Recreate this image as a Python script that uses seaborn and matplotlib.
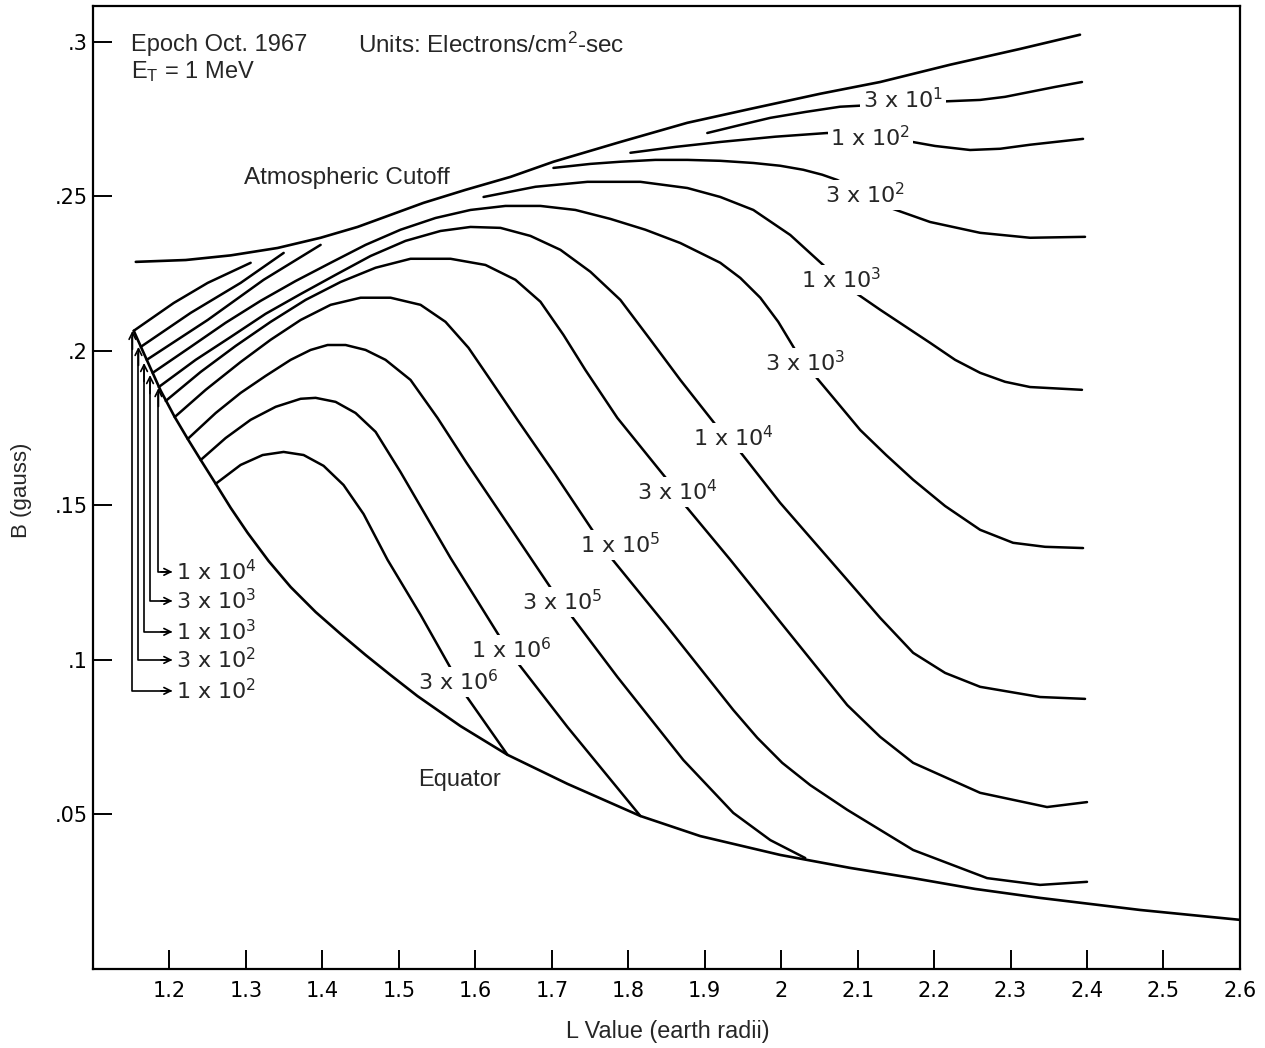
import matplotlib
matplotlib.use("Agg")
import matplotlib.pyplot as plt
import pandas as pd
import seaborn as sns

sns.set_theme(style="ticks")
plt.rcParams["font.family"] = ["DejaVu Sans"]
plt.rcParams["mathtext.fontset"] = "custom"
plt.rcParams["mathtext.rm"] = "DejaVu Sans"
plt.rcParams["mathtext.it"] = "DejaVu Sans"
plt.rcParams["mathtext.default"] = "regular"

# ---------------- data (L in earth radii, B in gauss) ----------------
L_cutoff = [1.1560, 1.2213, 1.2801, 1.3415, 1.3977, 1.4460, 1.4892, 1.5323, 1.5872, 1.6460,
            1.7022, 1.7897, 1.8773, 1.9597, 2.0511, 2.1295, 2.2211, 2.3124, 2.3908]
B_cutoff = [0.2288, 0.2294, 0.2309, 0.2333, 0.2366, 0.2401, 0.2440, 0.2479, 0.2521, 0.2563,
            0.2612, 0.2676, 0.2738, 0.2783, 0.2832, 0.2870, 0.2926, 0.2977, 0.3023]

L_equator = [1.1533, 1.1716, 1.1886, 1.2069, 1.2239, 1.2409, 1.2605, 1.2801, 1.3023, 1.3297,
             1.3585, 1.3912, 1.4239, 1.4565, 1.4892, 1.5244, 1.5806, 1.6421, 1.7205, 1.8159,
             1.8942, 1.9988, 2.0903, 2.1726, 2.2537, 2.3386, 2.4693, 2.6000]
B_equator = [0.2065, 0.1964, 0.1871, 0.1786, 0.1715, 0.1647, 0.1570, 0.1492, 0.1411, 0.1320,
             0.1236, 0.1155, 0.1084, 0.1016, 0.0951, 0.0883, 0.0786, 0.0693, 0.0599, 0.0495,
             0.0430, 0.0369, 0.0327, 0.0294, 0.0259, 0.0230, 0.0191, 0.0159]

L_3e1 = [1.9034, 1.9466, 1.9858, 2.0315, 2.0770, 2.2013, 2.2602, 2.2928, 2.3255, 2.3582, 2.3934]
B_3e1 = [0.2705, 0.2731, 0.2754, 0.2773, 0.2790, 0.2806, 0.2812, 0.2822, 0.2838, 0.2854, 0.2870]

L_1e2a = [1.1533, 1.2056, 1.2500, 1.3062]
B_1e2a = [0.2065, 0.2155, 0.2220, 0.2285]
L_1e2b = [1.8029, 1.8616, 1.9204, 1.9923, 2.0602, 2.1558, 2.2013, 2.2471, 2.2865, 2.3255, 2.3948]
B_1e2b = [0.2641, 0.2660, 0.2676, 0.2693, 0.2705, 0.2683, 0.2663, 0.2650, 0.2654, 0.2667, 0.2686]

L_3e2a = [1.1625, 1.2278, 1.2931, 1.3494]
B_3e2a = [0.2013, 0.2123, 0.2220, 0.2317]
L_3e2b = [1.7022, 1.7505, 1.7897, 1.8355, 1.8773, 1.9204, 1.9636, 1.9988, 2.0289, 2.0537,
          2.0733, 2.1387, 2.1948, 2.2602, 2.3255, 2.3974]
B_3e2b = [0.2592, 0.2605, 0.2612, 0.2618, 0.2618, 0.2615, 0.2608, 0.2599, 0.2586, 0.2570,
          0.2553, 0.2466, 0.2417, 0.2382, 0.2366, 0.2369]

L_1e3a = [1.1703, 1.2500, 1.3232, 1.3977]
B_1e3a = [0.1971, 0.2100, 0.2230, 0.2343]
L_1e3b = [1.6108, 1.6787, 1.7467, 1.8159, 1.8773, 1.9204, 1.9636, 2.0119, 2.0576, 2.0878,
          2.1295, 2.1948, 2.2275, 2.2602, 2.2928, 2.3255, 2.3934]
B_1e3b = [0.2498, 0.2531, 0.2547, 0.2547, 0.2527, 0.2498, 0.2456, 0.2375, 0.2272, 0.2204,
          0.2133, 0.2026, 0.1971, 0.1929, 0.1900, 0.1883, 0.1874]

L_3e3 = [1.1781, 1.2278, 1.2735, 1.3193, 1.3650, 1.4108, 1.4565, 1.5022, 1.5480, 1.5937,
         1.6394, 1.6852, 1.7309, 1.7767, 1.8224, 1.8681, 1.9204, 1.9466, 1.9727, 1.9962,
         2.0184, 2.0433, 2.0707, 2.1034, 2.1373, 2.1726, 2.2144, 2.2602, 2.3033, 2.3451, 2.3948]
B_3e3 = [0.1929, 0.2013, 0.2091, 0.2162, 0.2226, 0.2285, 0.2343, 0.2392, 0.2430, 0.2456,
         0.2469, 0.2469, 0.2456, 0.2427, 0.2392, 0.2349, 0.2285, 0.2236, 0.2172, 0.2094,
         0.2003, 0.1922, 0.1841, 0.1744, 0.1663, 0.1583, 0.1498, 0.1421, 0.1379, 0.1366, 0.1362]

L_1e4 = [1.1860, 1.2343, 1.2801, 1.3258, 1.3716, 1.4173, 1.4630, 1.5088, 1.5545, 1.5937,
         1.6329, 1.6721, 1.7113, 1.7505, 1.7897, 1.8290, 1.8681, 1.9165, 1.9465, 1.9988,
         2.0864, 2.1295, 2.1726, 2.2144, 2.2602, 2.3386, 2.3974]
B_1e4 = [0.1883, 0.1971, 0.2045, 0.2120, 0.2184, 0.2246, 0.2307, 0.2356, 0.2388, 0.2401,
         0.2398, 0.2372, 0.2327, 0.2256, 0.2165, 0.2036, 0.1906, 0.1754, 0.1673, 0.1508,
         0.1259, 0.1136, 0.1023, 0.0958, 0.0913, 0.0880, 0.0874]

L_3e4 = [1.1951, 1.2409, 1.2866, 1.3324, 1.3781, 1.4239, 1.4696, 1.5153, 1.5676, 1.6133,
         1.6525, 1.6852, 1.7152, 1.7440, 1.7858, 1.8511, 1.8707, 1.9335, 1.9988, 2.0864,
         2.1295, 2.1726, 2.2602, 2.3477, 2.4000]
B_3e4 = [0.1838, 0.1932, 0.2016, 0.2094, 0.2165, 0.2223, 0.2269, 0.2298, 0.2298, 0.2278,
         0.2230, 0.2159, 0.2052, 0.1938, 0.1783, 0.1583, 0.1511, 0.1324, 0.1123, 0.0854,
         0.0751, 0.0667, 0.0570, 0.0524, 0.0540]

L_1e5 = [1.2069, 1.2474, 1.2931, 1.3324, 1.3716, 1.4108, 1.4500, 1.4892, 1.5284, 1.5610,
         1.5911, 1.6198, 1.6551, 1.7048, 1.7571, 1.7767, 1.8511, 1.9374, 1.9688, 2.0014,
         2.0380, 2.0864, 2.1726, 2.2693, 2.3386, 2.4000]
B_1e5 = [0.1786, 0.1874, 0.1964, 0.2036, 0.2100, 0.2149, 0.2172, 0.2172, 0.2149, 0.2094,
         0.2010, 0.1906, 0.1777, 0.1599, 0.1405, 0.1333, 0.1107, 0.0838, 0.0748, 0.0667,
         0.0595, 0.0515, 0.0385, 0.0294, 0.0272, 0.0282]

L_3e5 = [1.2239, 1.2605, 1.2931, 1.3258, 1.3585, 1.3846, 1.4068, 1.4304, 1.4565, 1.4826,
         1.5153, 1.5506, 1.5885, 1.6460, 1.7022, 1.7218, 1.7858, 1.8721, 1.9374, 1.9858, 2.0315]
B_3e5 = [0.1715, 0.1799, 0.1864, 0.1919, 0.1971, 0.2003, 0.2019, 0.2019, 0.2003, 0.1971,
         0.1906, 0.1783, 0.1638, 0.1427, 0.1220, 0.1155, 0.0945, 0.0676, 0.0505, 0.0417, 0.0359]

L_1e6 = [1.2409, 1.2735, 1.3062, 1.3389, 1.3716, 1.3912, 1.4173, 1.4434, 1.4696, 1.5022,
         1.5349, 1.5676, 1.6002, 1.6329, 1.6525, 1.7205, 1.8159]
B_1e6 = [0.1647, 0.1718, 0.1777, 0.1819, 0.1845, 0.1848, 0.1835, 0.1799, 0.1738, 0.1608,
         0.1469, 0.1330, 0.1201, 0.1071, 0.1000, 0.0783, 0.0495]

L_3e6 = [1.2605, 1.2931, 1.3219, 1.3493, 1.3755, 1.4016, 1.4277, 1.4539, 1.4852, 1.5284,
         1.5676, 1.5846, 1.6421]
B_3e6 = [0.1570, 0.1631, 0.1663, 0.1673, 0.1663, 0.1628, 0.1566, 0.1472, 0.1324, 0.1146,
         0.0974, 0.0896, 0.0693]

contour_labels = ["3 x 10$^{1}$", "1 x 10$^{2}$", "3 x 10$^{2}$", "1 x 10$^{3}$", "3 x 10$^{3}$",
                  "1 x 10$^{4}$", "3 x 10$^{4}$", "1 x 10$^{5}$", "3 x 10$^{5}$", "1 x 10$^{6}$",
                  "3 x 10$^{6}$"]
fan_labels = ["1 x 10$^{4}$", "3 x 10$^{3}$", "1 x 10$^{3}$", "3 x 10$^{2}$", "1 x 10$^{2}$"]

x_ticks = [1.2, 1.3, 1.4, 1.5, 1.6, 1.7, 1.8, 1.9, 2.0, 2.1, 2.2, 2.3, 2.4, 2.5, 2.6]
x_ticklabels = ["1.2", "1.3", "1.4", "1.5", "1.6", "1.7", "1.8", "1.9", "2", "2.1", "2.2",
                "2.3", "2.4", "2.5", "2.6"]
y_ticks = [0.05, 0.10, 0.15, 0.20, 0.25, 0.30]
y_ticklabels = [".05", ".1", ".15", ".2", ".25", ".3"]

# ---------------- positions of annotations ----------------
contour_label_pos = [(2.1595, 0.2812), (2.1166, 0.2689), (2.1099, 0.2505), (2.0785, 0.2230),
                     (2.0315, 0.1961), (1.9374, 0.1718), (1.8642, 0.1544), (1.7897, 0.1372),
                     (1.7139, 0.1188), (1.6473, 0.1032), (1.5780, 0.0929)]
fan_label_y = [0.1285, 0.1191, 0.1091, 0.1000, 0.0900]
fan_vert_x = [1.1856, 1.1746, 1.1668, 1.1595, 1.1516]
fan_tip_y = [0.1880, 0.1922, 0.1961, 0.2013, 0.2065]
fan_label_x = 1.2082
fan_arrow_x = 1.2039

# ---------------- build tables ----------------
contour_segments = [
    ("3e1", L_3e1, B_3e1), ("1e2a", L_1e2a, B_1e2a), ("1e2b", L_1e2b, B_1e2b),
    ("3e2a", L_3e2a, B_3e2a), ("3e2b", L_3e2b, B_3e2b), ("1e3a", L_1e3a, B_1e3a),
    ("1e3b", L_1e3b, B_1e3b), ("3e3", L_3e3, B_3e3), ("1e4", L_1e4, B_1e4),
    ("3e4", L_3e4, B_3e4), ("1e5", L_1e5, B_1e5), ("3e5", L_3e5, B_3e5),
    ("1e6", L_1e6, B_1e6), ("3e6", L_3e6, B_3e6),
]
df_c = pd.concat([pd.DataFrame({"L": L, "B": B, "seg": n}) for n, L, B in contour_segments],
                 ignore_index=True)
df_b = pd.concat([pd.DataFrame({"L": L_cutoff, "B": B_cutoff, "seg": "cutoff"}),
                  pd.DataFrame({"L": L_equator, "B": B_equator, "seg": "equator"})],
                 ignore_index=True)

# ---------------- figure ----------------
fig = plt.figure(figsize=(12.65, 10.48), dpi=100)
ax = fig.add_axes([0.0735, 0.0754, 0.9067, 0.9189])

sns.lineplot(data=df_c, x="L", y="B", units="seg", estimator=None, sort=False,
             color="black", linewidth=1.8, ax=ax, zorder=2, legend=False)
sns.lineplot(data=df_b, x="L", y="B", units="seg", estimator=None, sort=False,
             color="black", linewidth=1.9, ax=ax, zorder=4, legend=False)
for ln in ax.get_lines():
    ln.set_solid_joinstyle("round")
    ln.set_solid_capstyle("round")

for txt, (lx, ly) in zip(contour_labels, contour_label_pos):
    ax.text(lx, ly, txt, ha="center", va="center", fontsize=16, zorder=3,
            bbox=dict(boxstyle="square,pad=0.12", fc="white", ec="none"))

for txt, vx, ty, ly in zip(fan_labels, fan_vert_x, fan_tip_y, fan_label_y):
    ax.plot([fan_arrow_x - 0.002, vx, vx], [ly, ly, ty - 0.002], color="black", lw=1.2, zorder=3)
    ax.annotate("", xy=(vx, ty), xytext=(vx, ty - 0.006),
                arrowprops=dict(arrowstyle="->", lw=1.2, color="black",
                                shrinkA=0, shrinkB=0, mutation_scale=12), zorder=3)
    ax.annotate("", xy=(fan_arrow_x, ly), xytext=(fan_arrow_x - 0.015, ly),
                arrowprops=dict(arrowstyle="->", lw=1.2, color="black",
                                shrinkA=0, shrinkB=0, mutation_scale=12), zorder=3)
    ax.text(fan_label_x, ly, txt, ha="left", va="center", fontsize=16, zorder=3)

sans = "Liberation Sans"
ax.text(1.1494, 0.2990, "Epoch Oct. 1967", fontsize=17, family=sans, va="center", ha="left")
ax.text(1.1494, 0.2903, "E$_{T}$ = 1 MeV", fontsize=17, family=sans, va="center", ha="left")
ax.text(1.4460, 0.2990, "Units: Electrons/cm$^{2}$-sec", fontsize=17.5, family=sans,
        va="center", ha="left")
ax.text(1.2971, 0.2560, "Atmospheric Cutoff", fontsize=17.5, family=sans, va="center", ha="left")
ax.text(1.5258, 0.0612, "Equator", fontsize=17, family=sans, va="center", ha="left")

ax.set_xlim(1.1, 2.6)
ax.set_ylim(0, 0.3116)
ax.set_xticks(x_ticks)
ax.set_xticklabels(x_ticklabels)
ax.set_yticks(y_ticks)
ax.set_yticklabels(y_ticklabels)
ax.tick_params(axis="both", direction="in", length=14, width=1.4, labelsize=15,
               colors="black")
ax.tick_params(axis="x", pad=9)
ax.tick_params(axis="y", pad=4)
for s in ax.spines.values():
    s.set_linewidth(1.6)
    s.set_color("black")
    s.set_visible(True)

ax.set_xlabel("L Value (earth radii)", fontsize=16.8, family=sans)
ax.set_ylabel("B (gauss)", fontsize=16, family=sans)
ax.xaxis.set_label_coords(0.5013, -0.053)
ax.yaxis.set_label_coords(-0.053, 0.497)

fig.savefig("out.png", dpi=100, facecolor="white")
